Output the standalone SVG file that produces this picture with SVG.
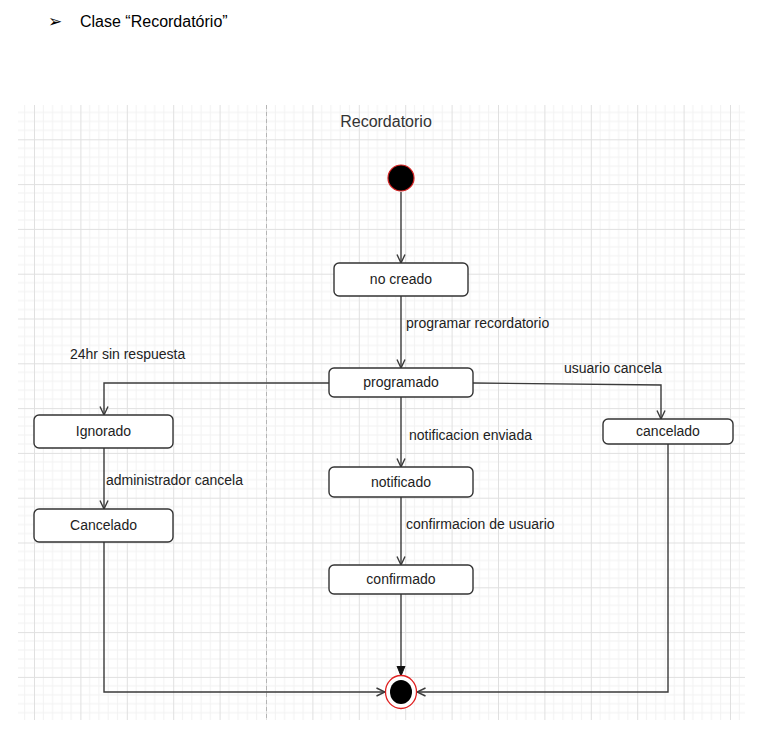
<svg xmlns="http://www.w3.org/2000/svg" width="763" height="736" viewBox="0 0 763 736">
<style>
  text { font-family: "Liberation Sans", Arial, sans-serif; fill: #222; }
  .hdr { font-size: 16px; fill: #000; }
  .title { font-size: 16px; fill: #333; }
  .lbl { font-size: 14px; fill: #222; }
  .node rect { fill: #fff; stroke: #333; stroke-width: 1.4; }
  .node text { font-size: 14px; text-anchor: middle; fill: #222; }
  .edge { fill: none; stroke: #3a3a3a; stroke-width: 1.4; }
</style>
<defs>
  <pattern id="grid" patternUnits="userSpaceOnUse" x="34" y="139.3" width="46.4" height="44.8">
    <path d="M9.28,0V44.8M18.56,0V44.8M27.84,0V44.8M37.12,0V44.8M0,8.96H46.4M0,17.92H46.4M0,26.88H46.4M0,35.84H46.4" stroke="#f2f2f2" stroke-width="1" fill="none"/>
    <path d="M0.5,0V44.8M0,0.5H46.4" stroke="#e0e0e0" stroke-width="1" fill="none"/>
  </pattern>
  <marker id="open" viewBox="0 0 10 10" refX="9.5" refY="5" markerWidth="10" markerHeight="10" markerUnits="userSpaceOnUse" orient="auto">
    <path d="M1,1 L9.5,5 L1,9" fill="none" stroke="#3a3a3a" stroke-width="1.4"/>
  </marker>
  <marker id="filled" viewBox="0 0 10 10" refX="10" refY="5" markerWidth="10" markerHeight="10" markerUnits="userSpaceOnUse" orient="auto">
    <path d="M0,1 L10,5 L0,9 Z" fill="#111" stroke="#111" stroke-width="1"/>
  </marker>
</defs>

<rect x="0" y="0" width="763" height="736" fill="#fff"/>

<!-- header -->
<text x="48" y="27" style="font-family:'DejaVu Sans',sans-serif;font-size:17px;fill:#000">➢</text>
<text class="hdr" x="80" y="27">Clase “Recordatório”</text>

<!-- grid background -->
<rect x="18" y="105" width="727" height="615" fill="url(#grid)"/>
<line x1="266.5" y1="105" x2="266.5" y2="720" stroke="#b5b5b5" stroke-width="1" stroke-dasharray="4,3"/>

<text class="title" x="386" y="127" text-anchor="middle">Recordatorio</text>

<!-- connectors -->
<g id="connectors">
  <line class="edge" x1="401" y1="192" x2="401" y2="263" marker-end="url(#open)"/>
  <line class="edge" x1="401" y1="296" x2="401" y2="368" marker-end="url(#open)"/>
  <polyline class="edge" points="329,383 104,383 104,415" marker-end="url(#open)"/>
  <polyline class="edge" points="473,383 661,385 661,419" marker-end="url(#open)"/>
  <line class="edge" x1="401" y1="397" x2="401" y2="467" marker-end="url(#open)"/>
  <line class="edge" x1="401" y1="497" x2="401" y2="565" marker-end="url(#open)"/>
  <line class="edge" x1="104" y1="448" x2="104" y2="509" marker-end="url(#open)"/>
  <line class="edge" x1="401" y1="594" x2="401" y2="676" marker-end="url(#filled)"/>
  <polyline class="edge" points="104,542 104,692 385,692" marker-end="url(#open)"/>
  <polyline class="edge" points="668,444 668,692 417,692" marker-end="url(#open)"/>
  <text class="lbl" x="406" y="328">programar recordatorio</text>
  <text class="lbl" x="70" y="359">24hr sin respuesta</text>
  <text class="lbl" x="564" y="373">usuario cancela</text>
  <text class="lbl" x="409" y="440">notificacion enviada</text>
  <text class="lbl" x="106" y="485">administrador cancela</text>
  <text class="lbl" x="406" y="529">confirmacion de usuario</text>
</g>

<!-- nodes -->
<g id="initial">
  <circle cx="401" cy="178" r="13" fill="#000" stroke="#d42020" stroke-width="1.2"/>
</g>
<g id="no-creado" class="node">
  <rect x="334" y="263" width="134" height="33" rx="5"/>
  <text x="401" y="284">no creado</text>
</g>
<g id="programado" class="node">
  <rect x="329" y="368" width="144" height="29" rx="5"/>
  <text x="401" y="387">programado</text>
</g>
<g id="ignorado" class="node">
  <rect x="34" y="415" width="139" height="33" rx="5"/>
  <text x="103.5" y="436">Ignorado</text>
</g>
<g id="cancelado-user" class="node">
  <rect x="603" y="419" width="130" height="25" rx="5"/>
  <text x="668" y="436">cancelado</text>
</g>
<g id="notificado" class="node">
  <rect x="329" y="467" width="144" height="30" rx="5"/>
  <text x="401" y="487">notificado</text>
</g>
<g id="cancelado-admin" class="node">
  <rect x="34" y="509" width="139" height="33" rx="5"/>
  <text x="103.5" y="530">Cancelado</text>
</g>
<g id="confirmado" class="node">
  <rect x="329" y="565" width="144" height="29" rx="5"/>
  <text x="401" y="584">confirmado</text>
</g>
<g id="final">
  <ellipse cx="401" cy="692" rx="15.5" ry="16.5" fill="#fff" stroke="#e02020" stroke-width="1.3"/>
  <ellipse cx="401" cy="692" rx="11" ry="12" fill="#000"/>
</g>
</svg>
